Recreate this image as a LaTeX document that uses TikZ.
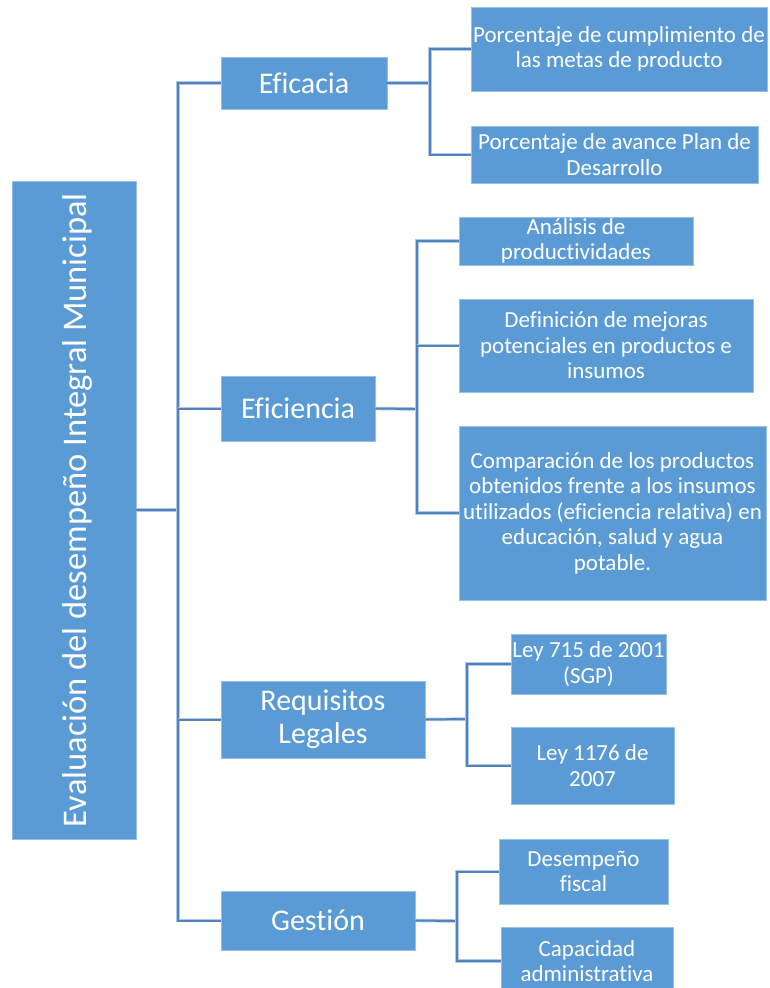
\documentclass[tikz,border=0pt]{standalone}
\usepackage{fontspec}
\setmainfont{Carlito}[Ligatures={NoCommon}]
\definecolor{boxblue}{RGB}{91,155,213}
\definecolor{boxedge}{RGB}{150,192,230}
\definecolor{lineblue}{RGB}{82,130,190}
\definecolor{lineshade}{RGB}{175,200,230}
\begin{document}
\begin{tikzpicture}[x=1pt,y=-1pt,
  box/.style={fill=boxblue, draw=boxedge, line width=0.8pt, text=white, align=center, inner sep=0pt},
  lvlone/.style={box, font=\fontsize{30}{33}\selectfont},
  leaf/.style={box, font=\fontsize{23}{25.5}\selectfont},
  conn/.style={draw=lineblue, line width=2pt, line join=miter,
    preaction={draw=lineshade, line width=3.4pt}}]
\fill[white] (0,0) rectangle (769,988);
\useasboundingbox (0,0) rectangle (769,988);
% trunk coordinates
\coordinate (t0) at (178,510);
\coordinate (t1) at (430,83);
\coordinate (t2) at (417,409);
\coordinate (t3) at (467,719);
\coordinate (t4) at (457,921);
% root
\node[box, minimum width=124, minimum height=658] (root) at (74,510) {};
\node[text=white, rotate=90, font=\fontsize{34.5}{38}\selectfont] (roottxt) at (77,510) {Evaluación del desempeño Integral Municipal};
% level one
\node[lvlone, minimum width=166, minimum height=52] (eficacia) at (304,83) {Eficacia};
\node[lvlone, minimum width=154, minimum height=65] (eficiencia) at (298,408.5) {Eficiencia};
\node[lvlone, minimum width=204, minimum height=77] (requisitos) at (323,719.5) {Requisitos\\Legales};
\node[lvlone, minimum width=194, minimum height=59] (gestion) at (318,920.5) {Gestión};
% eficacia children
\node[leaf, minimum width=296, minimum height=84] (ea) at (619,49) {Porcentaje de cumplimiento de\\las metas de producto};
\node[leaf, minimum width=287, minimum height=57] (eb) at (614.5,154.5) {Porcentaje de avance Plan de\\Desarrollo};
% eficiencia children
\node[leaf, minimum width=234, minimum height=48] (fa) at (576,241) {Análisis de\\productividades};
\node[leaf, minimum width=294, minimum height=93] (fb) at (606,345.5) {Definición de mejoras\\potenciales en productos e\\insumos};
\node[leaf, minimum width=307, minimum height=174] (fc) at (612.5,513) {Comparación de los productos\\obtenidos frente a los insumos\\utilizados (eficiencia relativa) en\\educación, salud y agua\\potable.};
% requisitos children
\node[leaf, minimum width=155, minimum height=60] (ra) at (588.5,664) {Ley 715 de 2001\\(SGP)};
\node[leaf, minimum width=163, minimum height=77] (rb) at (592.5,765.5) {Ley 1176 de\\2007};
% gestion children
\node[leaf, minimum width=169, minimum height=65] (ga) at (583.5,871.5) {Desempeño\\fiscal};
\node[leaf, minimum width=172, minimum height=68] (gb) at (587,961) {Capacidad\\administrativa};
% connectors
\draw[conn] (root.east) -- (t0);
\draw[conn] (eficacia.west) -| (t0 |- gestion.west) -- (gestion.west);
\draw[conn] (t0 |- eficiencia.west) -- (eficiencia.west);
\draw[conn] (t0 |- requisitos.west) -- (requisitos.west);
\draw[conn] (eficacia.east) -- (t1);
\draw[conn] (ea.west) -| (t1 |- eb.west) -- (eb.west);
\draw[conn] (eficiencia.east) -- (t2);
\draw[conn] (fa.west) -| (t2 |- fc.west) -- (fc.west);
\draw[conn] (t2 |- fb.west) -- (fb.west);
\draw[conn] (requisitos.east) -- (t3);
\draw[conn] (ra.west) -| (t3 |- rb.west) -- (rb.west);
\draw[conn] (gestion.east) -- (t4);
\draw[conn] (ga.west) -| (t4 |- gb.west) -- (gb.west);
\end{tikzpicture}
\end{document}
